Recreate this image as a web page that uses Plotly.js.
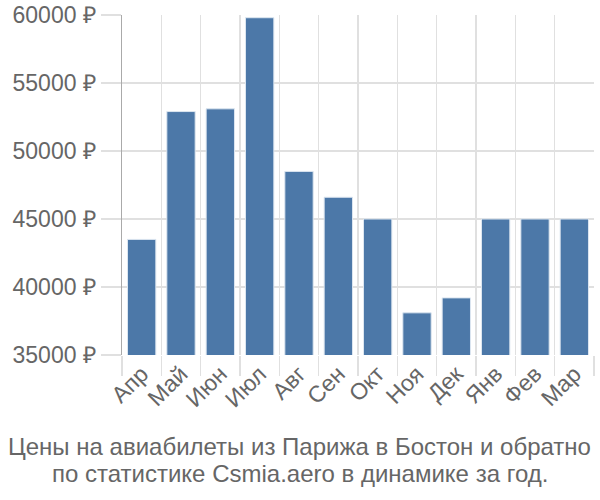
<!DOCTYPE html>
<html>
<head>
<meta charset="utf-8">
<script src="https://cdn.plot.ly/plotly-3.0.1.min.js"></script>
<style>html,body{margin:0;padding:0;background:#fff;}#chart{width:600px;height:500px;}</style>
</head>
<body>
<div id="chart"></div>
<script>
const months = ["Апр","Май","Июн","Июл","Авг","Сен","Окт","Ноя","Дек","Янв","Фев","Мар"];
const prices = [43500, 52900, 53100, 59800, 48500, 46600, 45000, 38100, 39200, 45000, 45000, 45000];
const yTicks = [35000, 40000, 45000, 50000, 55000, 60000];
const yTickLabels = yTicks.map(v => v + " ₽");
const titleLines = ["Цены на авиабилеты из Парижа в Бостон и обратно", "по статистике Csmia.aero в динамике за год."];

const trace = {
  type: "bar",
  x: months,
  y: prices,
  marker: {color: "#4c78a8", line: {color: "#dce6f0", width: 1}},
  width: 0.72,
  hoverinfo: "x+y"
};

const font = "Liberation Sans, Arial, sans-serif";
const layout = {
  width: 600, height: 500,
  margin: {l: 122, r: 6, t: 15, b: 145},
  paper_bgcolor: "#fff", plot_bgcolor: "#fff",
  font: {family: font, color: "#666"},
  showlegend: false,
  xaxis: {
    type: "category",
    tickson: "boundaries",
    showgrid: true, gridcolor: "#e0e0e0", gridwidth: 1.5,
    ticks: "outside", ticklen: 20, tickcolor: "#e0e0e0", tickwidth: 1.5,
    tickangle: -45,
    tickfont: {size: 23, color: "#666"},
    showline: false, zeroline: false
  },
  yaxis: {
    range: [35000, 60000],
    tickvals: yTicks, ticktext: yTickLabels,
    showgrid: true, gridcolor: "#e0e0e0", gridwidth: 1.5,
    ticks: "outside", ticklen: 20, tickcolor: "#e0e0e0", tickwidth: 1.5,
    tickfont: {size: 23, color: "#666"},
    showline: true, linecolor: "#aaa", linewidth: 1.5,
    zeroline: false
  },
  annotations: titleLines.map((t, i) => ({
    xref: "paper", yref: "paper", x: 0.377, y: 0,
    yshift: -91 - 27 * i, yanchor: "middle", xanchor: "center",
    text: t,
    showarrow: false,
    font: {size: 24, color: "#666", family: font}
  }))
};

Plotly.newPlot("chart", [trace], layout, {displayModeBar: false, staticPlot: true});
</script>
</body>
</html>
